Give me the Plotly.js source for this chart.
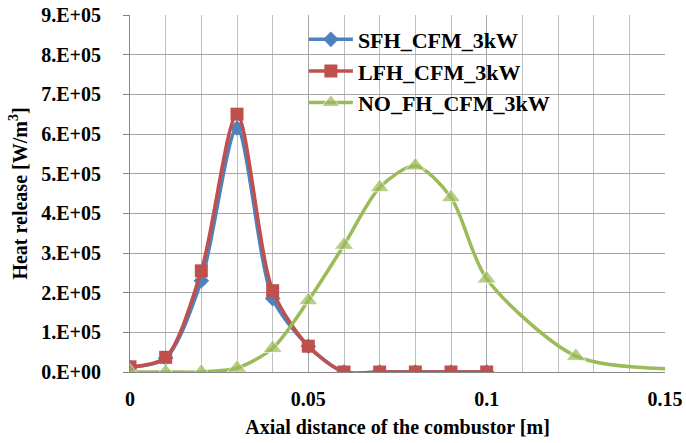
<!DOCTYPE html>
<html><head><meta charset="utf-8">
<script src="https://cdn.plot.ly/plotly-3.0.1.min.js"></script>
<style>body{margin:0;background:#fff}#c{width:686px;height:443px}</style>
</head><body><div id="c"></div>
<script>
const xA = [0, 0.01, 0.02, 0.03, 0.04, 0.05, 0.06, 0.07, 0.08, 0.09, 0.1];
const sfh = [12000, 35000, 230000, 615000, 185000, 65000, 0, 0, 0, 0, 0];
const lfh = [13000, 37000, 255000, 650000, 205000, 65000, 0, 0, 0, 0, 0];
const xNo = [0, 0.01, 0.02, 0.03, 0.04, 0.05, 0.06, 0.07, 0.08, 0.09, 0.1, 0.125, 0.15];
const noFh = [0, 0, 0, 10000, 60000, 180000, 320000, 465000, 520000, 440000, 235000, 40000, 8000];
const yTicks = [0, 1e5, 2e5, 3e5, 4e5, 5e5, 6e5, 7e5, 8e5, 9e5];
const yLabels = ["0.E+00","1.E+05","2.E+05","3.E+05","4.E+05","5.E+05","6.E+05","7.E+05","8.E+05","9.E+05"];
const xTicks = [0, 0.05, 0.1, 0.15];
const xLabels = ["0", "0.05", "0.1", "0.15"];
const names = ["SFH_CFM_3kW", "LFH_CFM_3kW", "NO_FH_CFM_3kW"];

const noSizes = xNo.map((v, i) => i === xNo.length - 1 ? 0 : 17);
const b = s => '<b>' + s + '</b>';
const traces = [
  {x: xA, y: sfh, name: b(names[0]), mode: 'lines+markers', line: {color: '#4F81BD', width: 3.5, shape: 'spline', smoothing: 0.8},
   marker: {symbol: 'diamond', size: 12, color: '#4F81BD'}},
  {x: xA, y: lfh, name: b(names[1]), mode: 'lines+markers', line: {color: '#C0504D', width: 3.5, shape: 'spline', smoothing: 0.8},
   marker: {symbol: 'square', size: 13, color: '#C0504D'}},
  {x: xNo, y: noFh, name: b(names[2]), mode: 'lines+markers', line: {color: '#9BBB59', width: 3.5, shape: 'spline', smoothing: 0.8},
   marker: {symbol: 'triangle-up', size: noSizes, color: '#9BBB59'}}
];
const fam = 'Liberation Serif';
const bold = {family: fam, size: 20, color: '#000'};
const layout = {
  width: 686, height: 443,
  margin: {l: 130, r: 21, t: 15, b: 71},
  paper_bgcolor: '#fff', plot_bgcolor: '#fff',
  font: {family: fam, color: '#000'},
  showlegend: true,
  legend: {x: 0.325, y: 0.99, xanchor: 'left', yanchor: 'top', bgcolor: 'rgba(255,255,255,0)',
    font: {family: fam, size: 22, color: '#000'}, itemwidth: 44, tracegroupgap: 0},
  xaxis: {range: [0, 0.15], tickvals: xTicks, ticktext: xLabels.map(b), showgrid: true, gridcolor: '#A6A6A6', gridwidth: 1,
    minor: {dtick: 0.01, showgrid: true, gridcolor: '#BFBFBF', gridwidth: 1},
    showline: true, linecolor: '#868686', linewidth: 1, zeroline: false, ticks: '', ticklen: 0,
    tickfont: bold, ticklabelstandoff: 9,
    title: {text: b('Axial distance of the combustor [m]'), font: bold, standoff: 10}},
  yaxis: {range: [0, 9e5], tickvals: yTicks, ticktext: yLabels.map(b), showgrid: true, gridcolor: '#A6A6A6', gridwidth: 1,
    showline: true, linecolor: '#868686', linewidth: 1, zeroline: false, ticks: 'outside', ticklen: 6, tickcolor: '#868686',
    tickfont: bold, ticklabelstandoff: 18,
    title: {text: b('Heat release [W/m<sup>3</sup>]'), font: bold, standoff: 8}}
};
Plotly.newPlot('c', traces, layout, {displayModeBar: false, staticPlot: true});
</script></body></html>
